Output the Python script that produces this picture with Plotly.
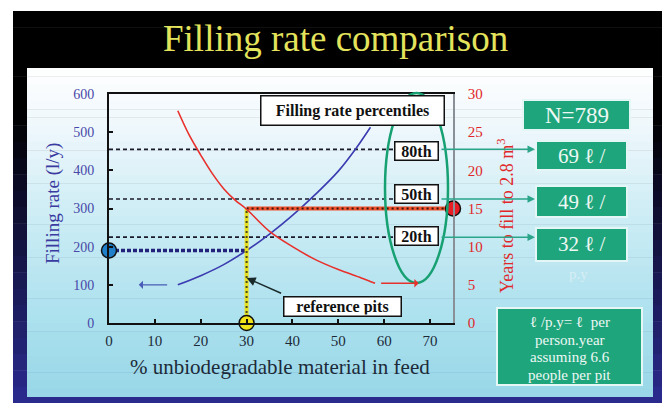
import plotly.graph_objects as go

# ---------------- data ----------------
pct_blue = [15, 20, 25, 30, 35, 40, 45, 50, 54, 57]
fill_rate = [100, 124, 153, 190, 233, 282, 337, 398, 460, 513]

pct_red = [15, 17.5, 20, 22.5, 25, 27.5, 30, 35, 40, 45, 50, 55, 58]
years_fill = [27.8, 24.6, 22.0, 19.6, 17.6, 16.1, 14.9, 12.0, 10.0, 8.3, 7.0, 5.9, 5.2]

perc_labels = ["80th", "50th", "20th"]
perc_values = [455, 325, 225]
perc_rates = ["69 ℓ /", "49 ℓ /", "32 ℓ /"]

ref_pct = 30
ref_rate = 190
ref_rate_line = 300
ref_years = 15

x_ticks = [0, 10, 20, 30, 40, 50, 60, 70]
y_ticks = [0, 100, 200, 300, 400, 500, 600]
y2_ticks = [0, 5, 10, 15, 20, 25, 30]

# ---------------- layout helpers (screen pixel coords) ----------------
OFF = 8  # page body margin
L, R, T, B = 109, 453, 94, 323
W, H = 670 - OFF, 403 - OFF


def PX(x):
    return (x - L) / (R - L)


def PY(y):
    return (B - y) / (B - T)


SERIF = "Liberation Serif, Times New Roman, serif"

fig = go.Figure()

# percentile dashed lines
for v in perc_values:
    fig.add_trace(go.Scatter(x=[0, 62], y=[v, v], mode="lines",
                             line=dict(color="#1a1a2a", width=1.6, dash="4px,3px"),
                             hoverinfo="skip"))

# blue curve
fig.add_trace(go.Scatter(x=pct_blue, y=fill_rate, mode="lines", line_shape="spline",
                         line=dict(color="#3b3bb0", width=1.6), hoverinfo="skip"))
# red curve
fig.add_trace(go.Scatter(x=pct_red, y=years_fill, mode="lines", line_shape="spline", yaxis="y2",
                         line=dict(color="#e8302c", width=1.6), hoverinfo="skip"))

# blue dotted horizontal at reference rate
fig.add_trace(go.Scatter(x=[0, ref_pct], y=[ref_rate, ref_rate], mode="lines",
                         line=dict(color="#22227a", width=3.5, dash="4px,2px"), hoverinfo="skip"))
# yellow vertical
fig.add_trace(go.Scatter(x=[ref_pct, ref_pct], y=[0, ref_rate_line], mode="lines",
                         line=dict(color="#e6e020", width=4), hoverinfo="skip"))
fig.add_trace(go.Scatter(x=[ref_pct, ref_pct], y=[0, ref_rate_line], mode="lines",
                         line=dict(color="#4a4a20", width=2, dash="2px,3px"), hoverinfo="skip"))
# red horizontal
fig.add_trace(go.Scatter(x=[ref_pct, 75], y=[ref_rate_line, ref_rate_line], mode="lines",
                         line=dict(color="#f0502c", width=4), hoverinfo="skip", cliponaxis=False))
fig.add_trace(go.Scatter(x=[ref_pct, 75], y=[ref_rate_line, ref_rate_line], mode="lines",
                         line=dict(color="#3a1a10", width=2, dash="2px,3px"), hoverinfo="skip",
                         cliponaxis=False))

# dots
fig.add_trace(go.Scatter(x=[0], y=[ref_rate], mode="markers", cliponaxis=False,
                         marker=dict(size=15, color="#1f7fc8", line=dict(color="#111", width=1.5)),
                         hoverinfo="skip"))
fig.add_trace(go.Scatter(x=[ref_pct], y=[0], mode="markers", cliponaxis=False,
                         marker=dict(size=15, color="#f2e21a", line=dict(color="#111", width=1.5)),
                         hoverinfo="skip"))
fig.add_trace(go.Scatter(x=[75], y=[ref_years], mode="markers", cliponaxis=False, yaxis="y2",
                         marker=dict(size=15, color="#e81c24", line=dict(color="#111", width=1.5)),
                         hoverinfo="skip"))

shapes = []
# slide frame gradient (black -> navy)
N = 24
for i in range(N):
    y0 = 11 + i * (403 - 11) / N
    y1 = y0 + (403 - 11) / N + 0.5
    t = i / (N - 1)
    t2 = max(0.0, (t - 0.25) / 0.75)
    c = (int(42 * t2), int(42 * t2), int(140 * t2))
    shapes.append(dict(type="rect", xref="paper", yref="paper", x0=PX(13), x1=PX(664),
                       y0=PY(y1), y1=PY(y0), fillcolor="rgb(%d,%d,%d)" % c,
                       line=dict(width=0), layer="below"))

# panel gradient
stops = [(68, (255, 255, 255)), (130, (238, 248, 252)), (230, (200, 235, 244)),
         (320, (172, 225, 238)), (397, (152, 215, 232))]


def col_at(y):
    for (ya, ca), (yb, cb) in zip(stops[:-1], stops[1:]):
        if ya <= y <= yb:
            f = (y - ya) / (yb - ya)
            return tuple(int(ca[k] + (cb[k] - ca[k]) * f) for k in range(3))
    return stops[-1][1]


M = 40
for i in range(M):
    y0 = 68 + i * (397 - 68) / M
    y1 = y0 + (397 - 68) / M + 0.5
    c = col_at((y0 + y1) / 2)
    shapes.append(dict(type="rect", xref="paper", yref="paper", x0=PX(27), x1=PX(653),
                       y0=PY(min(y1, 397)), y1=PY(y0), fillcolor="rgb(%d,%d,%d)" % c,
                       line=dict(width=0), layer="below"))

# green ellipse
shapes.append(dict(type="circle", xref="paper", yref="paper", x0=PX(385), x1=PX(448),
                   y0=PY(283), y1=PY(93), line=dict(color="#17a072", width=2.5), layer="above"))

GREEN = "#1ea57c"
BOXLINE = "#e4f6f6"
green_boxes = [(523, 630, 100, 130), (536, 627, 141, 170), (536, 627, 186, 217),
               (536, 627, 228, 261), (497, 642, 308, 385)]
for x0, x1, y0, y1 in green_boxes:
    shapes.append(dict(type="rect", xref="paper", yref="paper", x0=PX(x0), x1=PX(x1),
                       y0=PY(y1), y1=PY(y0), fillcolor=GREEN,
                       line=dict(color=BOXLINE, width=2), layer="above"))

ann = []


def text_at(txt, x, y, size, color, **kw):
    d = dict(text=txt, x=PX(x), y=PY(y), xref="paper", yref="paper", showarrow=False,
             xanchor="center", yanchor="middle", font=dict(family=SERIF, size=size, color=color))
    d.update(kw)
    ann.append(d)


# title
text_at("Filling rate comparison", 335, 38, 37, "#e4e45c")
# axis titles
text_at("% unbiodegradable material in feed", 280, 367, 21, "#1c2a38")
text_at("Filling rate (l/y)", 53, 203, 19, "#3a3aa0", textangle=-90)
text_at("Years to fill to 2.8 m<sup>3</sup>", 505, 216, 18, "#e0282a", textangle=-90)

# label boxes
text_at("<b>Filling rate percentiles</b>", 352.5, 110, 16, "#111", bgcolor="white",
        bordercolor="#111", borderwidth=1.5, borderpad=2, width=178, height=24)
box_y = [151, 194, 236]
for lab, yy in zip(perc_labels, box_y):
    text_at("<b>%s</b>" % lab, 416.5, yy, 16, "#111", bgcolor="white", bordercolor="#111",
            borderwidth=1.5, borderpad=1, width=40, height=15)
text_at("<b>reference pits</b>", 342.5, 306, 16, "#111", bgcolor="white", bordercolor="#111",
        borderwidth=1.5, borderpad=1, width=114, height=16)

# reference pits arrow
ann.append(dict(text="", x=ref_pct, y=118, xref="x", yref="y", showarrow=True, ax=36, ay=16,
                arrowhead=2, arrowsize=1.2, arrowwidth=1.5, arrowcolor="#1a2a2a"))
# blue arrow pointing left
ann.append(dict(text="", x=6.5, y=100, xref="x", yref="y", axref="x", ayref="y", ax=13, ay=100,
                showarrow=True, arrowhead=1, arrowsize=1, arrowwidth=1.4, arrowcolor="#4a5cb8"))
# red arrow pointing right
ann.append(dict(text="", x=67.5, y=5.2, xref="x", yref="y2", axref="x", ayref="y2", ax=59,
                ay=5.2, showarrow=True, arrowhead=1, arrowsize=1, arrowwidth=1.4,
                arrowcolor="#e8302c"))
# green arrows to rate boxes
for v in perc_values:
    ann.append(dict(text="", x=PX(535), y=v, xref="paper", yref="y", ax=-95, ay=0,
                    showarrow=True, arrowhead=2, arrowsize=1, arrowwidth=1.5,
                    arrowcolor="#2aa58a"))

# green box texts
text_at("N=789", 576.5, 115, 23, "#eef8f4")
for txt, (x0, x1, y0, y1) in zip(perc_rates, green_boxes[1:4]):
    text_at(txt, (x0 + x1) / 2, (y0 + y1) / 2, 21, "#eef8f4")
text_at("p.y", 578, 274, 15, "#d6eef5")
note_lines = ["ℓ /p.y= ℓ  per", "person.year", "assuming 6.6", "people per pit"]
note_y = [322, 340, 357, 375]
for txt, yy in zip(note_lines, note_y):
    text_at(txt, 569.5, yy, 15, "#eef8f4")

fig.update_layout(
    width=W, height=H,
    margin=dict(l=L - OFF, r=W - (R - OFF), t=T - OFF, b=H - (B - OFF), pad=0, autoexpand=False),
    paper_bgcolor="white", plot_bgcolor="rgba(0,0,0,0)",
    showlegend=False, hovermode=False,
    shapes=shapes, annotations=ann,
    xaxis=dict(range=[0, 75], tickvals=x_ticks, ticks="inside", ticklen=4, tickwidth=1.5,
               tickcolor="#111", showline=True, linecolor="#111", linewidth=2, mirror=True,
               showgrid=False, zeroline=False, ticklabelstandoff=3,
               tickfont=dict(family=SERIF, size=15, color="#1c2a38")),
    yaxis=dict(range=[0, 600], tickvals=y_ticks, ticks="inside", ticklen=4, tickwidth=1.5,
               tickcolor="#111", showline=True, linecolor="#111", linewidth=2,
               showgrid=False, zeroline=False, ticklabelstandoff=10,
               tickfont=dict(family=SERIF, size=14, color="#4848a8")),
    yaxis2=dict(range=[0, 30], tickvals=y2_ticks, overlaying="y", side="right",
                showline=True, linecolor="#8a9098", linewidth=1.5, ticks="",
                showgrid=False, zeroline=False, ticklabelstandoff=10,
                tickfont=dict(family=SERIF, size=15, color="#e0282a")),
)

fig.write_html("out.html")
